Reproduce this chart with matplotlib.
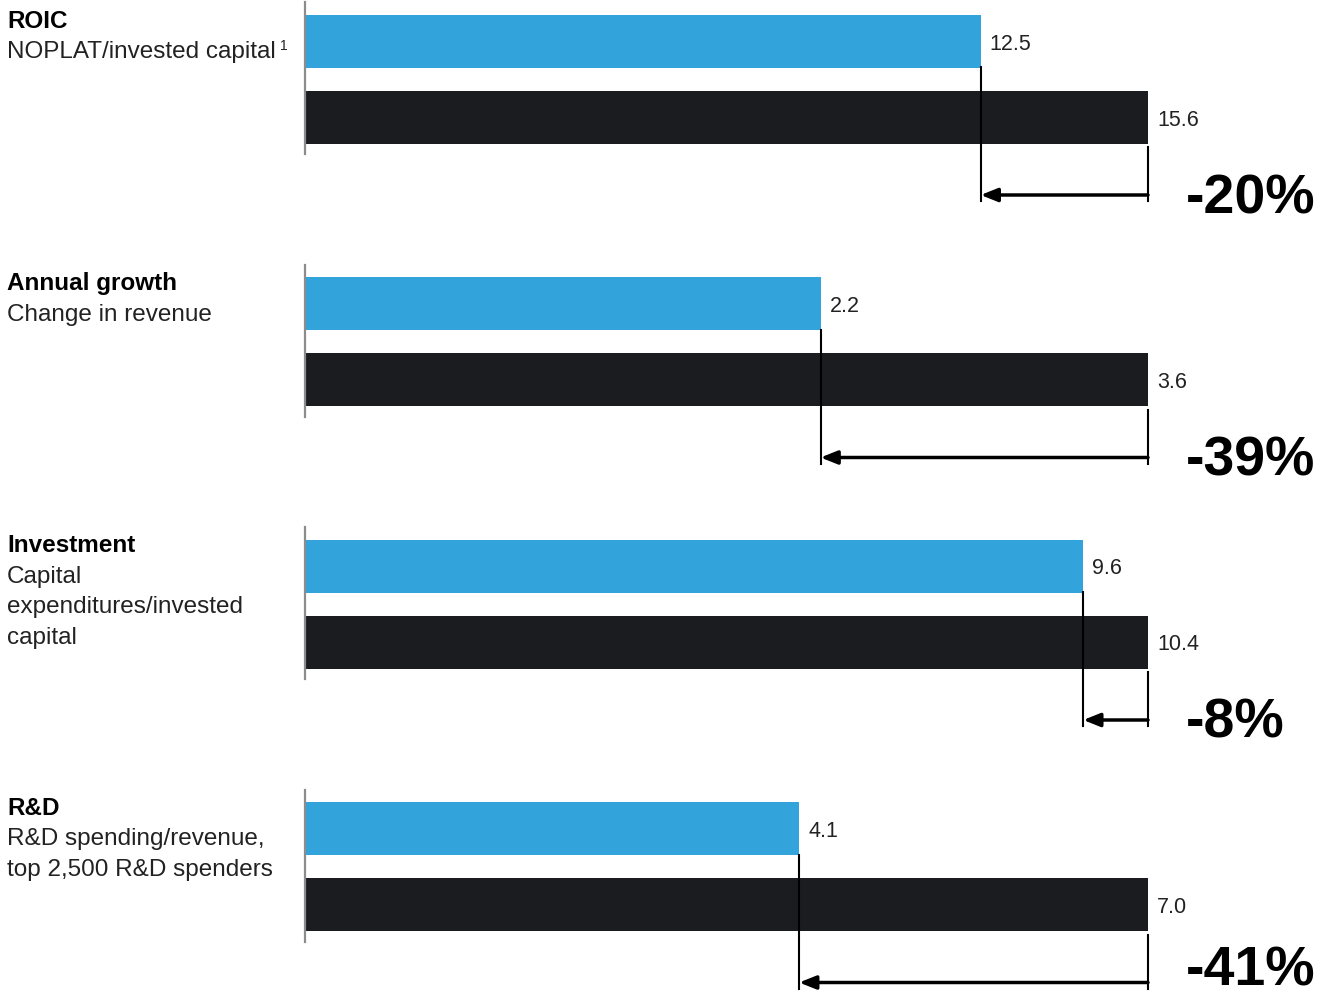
import matplotlib
matplotlib.use("Agg")
import matplotlib.pyplot as plt

plt.rcParams["font.family"] = ["Liberation Sans", "DejaVu Sans"]

# ── data ──────────────────────────────────────
titles = ["ROIC", "Annual growth", "Investment", "R&D"]
subtitles = [
    ["NOPLAT/invested capital"],
    ["Change in revenue"],
    ["Capital", "expenditures/invested", "capital"],
    ["R&D spending/revenue,", "top 2,500 R&D spenders"],
]
footnotes = ["1", "", "", ""]
blue_vals = [12.5, 2.2, 9.6, 4.1]
black_vals = [15.6, 3.6, 10.4, 7.0]
changes = ["-20%", "-39%", "-8%", "-41%"]

BLUE, DARK, GRAY = "#33a3dc", "#1a1c1f", "#8c8c8c"

W, H = 1333, 1003
fig = plt.figure(figsize=(W / 100, H / 100), dpi=100, facecolor="white")

X0, XMAX = 306, 1148          # pixel where bars start / where black bar ends
PANEL_H = 240


def fx(x):
    return x / W


def fy(y):
    return 1 - y / H


for i in range(4):
    top = 3 + i * 262.5
    ax = fig.add_axes([fx(X0), fy(top + PANEL_H), (W - X0) / W, PANEL_H / H])
    ref = black_vals[i]
    ax.set_xlim(0, ref * (W - X0) / (XMAX - X0))
    ax.set_ylim(PANEL_H, 0)
    ax.axis("off")

    # bars
    ax.barh([39], [blue_vals[i]], height=53, color=BLUE, left=0)
    ax.barh([115], [black_vals[i]], height=53, color=DARK, left=0)
    ax.plot([-0.0015 * ref, -0.0015 * ref], [0, 152], color=GRAY, lw=1.6, clip_on=False)

    # value labels
    dx = ref * 9 / (XMAX - X0)
    ax.text(blue_vals[i] + dx, 41, f"{blue_vals[i]:.1f}", va="center", ha="left",
            fontsize=15.5, color="#222222")
    ax.text(black_vals[i] + dx, 117, f"{black_vals[i]:.1f}", va="center", ha="left",
            fontsize=15.5, color="#222222")

    # bracket + arrow
    ax.plot([blue_vals[i]] * 2, [65, 199], color="black", lw=1.5, clip_on=False)
    ax.plot([black_vals[i]] * 2, [145, 199], color="black", lw=1.5, clip_on=False)
    ax.annotate("", xy=(blue_vals[i], 193), xytext=(black_vals[i], 193),
                arrowprops=dict(arrowstyle="-|>,head_length=1.0,head_width=0.4",
                                color="black", lw=2.5, shrinkA=0, shrinkB=0))

    ychg = top + 196 if i < 3 else top + 181
    fig.text(fx(1186), fy(ychg), changes[i], fontsize=40, fontweight="bold",
             va="center", ha="left", color="black")

    # left labels
    fig.text(fx(7), fy(top + 18), titles[i], fontsize=17.5, fontweight="bold",
             va="center", ha="left", color="black")
    for j, line in enumerate(subtitles[i]):
        t = fig.text(fx(7), fy(top + 49 + j * 30.5), line, fontsize=17.5,
                     va="center", ha="left", color="#222222")
        if j == 0 and footnotes[i]:
            fig.canvas.draw()
            bb = t.get_window_extent()
            fig.text(bb.x1 / W + 0.003, fy(top + 43), footnotes[i], fontsize=10,
                     va="center", ha="left", color="#222222")

fig.savefig("out.png", dpi=100, facecolor="white")
